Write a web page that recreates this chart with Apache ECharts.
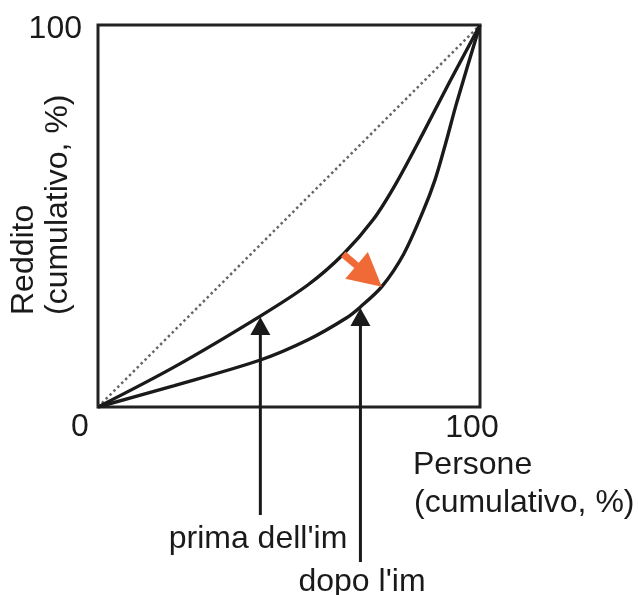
<!DOCTYPE html>
<html>
<head>
<meta charset="utf-8">
<script src="https://cdn.jsdelivr.net/npm/echarts@6/dist/echarts.min.js"></script>
<style>html,body{margin:0;padding:0;background:#fff}#c{width:638px;height:595px}</style>
</head>
<body>
<div id="c"></div>
<script>
// Curve data (cumulative % of people vs cumulative % of income)
const primaX = [0, 20, 42.5, 55, 64.2, 72, 78, 85, 92, 100];
const primaY = [0, 10.5, 23.8, 32, 40, 49, 58.5, 71.5, 85, 100];
const dopoX = [0, 20, 42.5, 55, 65, 68.7, 74.3, 80, 85, 88.2, 91, 94, 100];
const dopoY = [0, 5.6, 12.3, 17.6, 23.3, 26.2, 31.5, 40, 51, 59.4, 69, 80, 100];
const diagonaleX = [0, 100];
const diagonaleY = [0, 100];
const tickLabels = ['0', '100'];
const labelPrima = "prima dell'im";
const labelDopo = "dopo l'im";
const titoloY = ['Reddito', '(cumulativo, %)'];
const titoloX = ['Persone', '(cumulativo, %)'];
// annotation anchors: indices into the curve arrays
const idxPrima = 2;      // arrow to "prima" curve
const idxDopo = 5;       // arrow to "dopo" curve
const idxOrangeFrom = 4; // on prima
const idxOrangeTo = 6;   // on dopo

const zip = (xs, ys) => xs.map((x, i) => [x, ys[i]]);
const FONT = '"Liberation Sans", Arial, sans-serif';
const INK = '#1a1a1a';

const chart = echarts.init(document.getElementById('c'), null, {renderer: 'canvas'});

function arrowShape(p0, p1, shaftW, headL, headW, color) {
  const dx = p1[0] - p0[0], dy = p1[1] - p0[1];
  const len = Math.sqrt(dx * dx + dy * dy);
  const ux = dx / len, uy = dy / len;
  const nx = -uy, ny = ux;
  const bx = p1[0] - ux * headL, by = p1[1] - uy * headL;
  return [
    {type: 'line', shape: {x1: p0[0], y1: p0[1], x2: bx + ux, y2: by + uy},
     style: {stroke: color, lineWidth: shaftW}},
    {type: 'polygon', shape: {points: [[p1[0], p1[1]], [bx + nx * headW / 2, by + ny * headW / 2], [bx - nx * headW / 2, by - ny * headW / 2]]},
     style: {fill: color}}
  ];
}

const option = {
  animation: false,
  backgroundColor: '#fff',
  grid: {left: 98, top: 25, width: 382, height: 382, show: true, borderColor: '#222', borderWidth: 3, backgroundColor: 'transparent'},
  xAxis: {type: 'value', min: 0, max: 100, axisLine: {show: false}, axisTick: {show: false}, axisLabel: {show: false}, splitLine: {show: false}},
  yAxis: {type: 'value', min: 0, max: 100, axisLine: {show: false}, axisTick: {show: false}, axisLabel: {show: false}, splitLine: {show: false}},
  series: [
    {type: 'line', data: zip(diagonaleX, diagonaleY), showSymbol: false, symbol: 'none',
     lineStyle: {color: '#666', width: 2.5, type: [2.5, 3]}},
    {type: 'line', data: zip(primaX, primaY), smooth: 0.3, symbol: 'none',
     lineStyle: {color: INK, width: 3.4}},
    {type: 'line', data: zip(dopoX, dopoY), smooth: 0.3, symbol: 'none',
     lineStyle: {color: INK, width: 3.4}},
    {type: 'custom', clip: false, silent: true, z: 5,
     data: [[0]],
     renderItem: function (params, api) {
       const children = [];
       // black arrows from below the axis up to the curves
       const tipA = api.coord([primaX[idxPrima], primaY[idxPrima]]);
       children.push(...arrowShape([tipA[0], 515], [tipA[0], tipA[1] + 1], 3, 18, 20, INK));
       const tipB = api.coord([dopoX[idxDopo], dopoY[idxDopo]]);
       children.push(...arrowShape([tipB[0], 562], [tipB[0], tipB[1] + 1], 3, 18, 20, INK));
       // orange arrow from prima curve to dopo curve
       const o0 = api.coord([primaX[idxOrangeFrom], primaY[idxOrangeFrom]]);
       const o1 = api.coord([dopoX[idxOrangeTo], dopoY[idxOrangeTo]]);
       children.push(...arrowShape(o0, o1, 7, 33, 35, '#F06A38'));
       return {type: 'group', children: children};
     }}
  ],
  graphic: [
    {type: 'text', x: 82, y: 29, style: {text: tickLabels[1], font: '32px ' + FONT, fill: INK, textAlign: 'right', textVerticalAlign: 'middle'}},
    {type: 'text', x: 80, y: 427, style: {text: tickLabels[0], font: '32px ' + FONT, fill: INK, textAlign: 'center', textVerticalAlign: 'middle'}},
    {type: 'text', x: 472, y: 428, style: {text: tickLabels[1], font: '32px ' + FONT, fill: INK, textAlign: 'center', textVerticalAlign: 'middle'}},
    {type: 'text', x: 413, y: 465, style: {text: titoloX[0], font: '32px ' + FONT, fill: INK, textAlign: 'left', textVerticalAlign: 'middle'}},
    {type: 'text', x: 414, y: 503, style: {text: titoloX[1], font: '32px ' + FONT, fill: INK, textAlign: 'left', textVerticalAlign: 'middle'}},
    {type: 'text', x: 24, y: 315, rotation: Math.PI / 2, style: {text: titoloY[0], font: '32px ' + FONT, fill: INK, textAlign: 'left', textVerticalAlign: 'middle'}},
    {type: 'text', x: 58, y: 315, rotation: Math.PI / 2, style: {text: titoloY[1], font: '32px ' + FONT, fill: INK, textAlign: 'left', textVerticalAlign: 'middle'}},
    {type: 'text', x: 258, y: 539, style: {text: labelPrima, font: '32px ' + FONT, fill: INK, textAlign: 'center', textVerticalAlign: 'middle'}},
    {type: 'text', x: 362, y: 582, style: {text: labelDopo, font: '32px ' + FONT, fill: INK, textAlign: 'center', textVerticalAlign: 'middle'}}
  ]
};
chart.setOption(option);
</script>
</body>
</html>
